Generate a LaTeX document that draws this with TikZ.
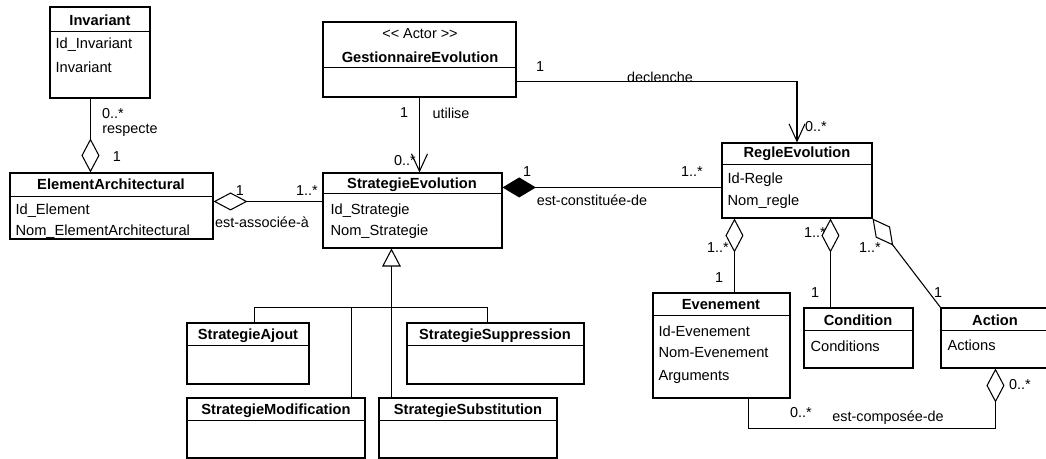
\documentclass[tikz,border=0pt]{standalone}
\usepackage{fontspec}
\setmainfont[Ligatures=NoCommon]{Liberation Sans}
\usetikzlibrary{arrows.meta,fit,calc}
\begin{document}
\begin{tikzpicture}[x=0.75pt,y=-0.75pt,line width=0.8pt,
  cls/.style={draw,inner sep=0pt,line width=0.8pt},
  ttl/.style={inner sep=0pt,font=\fontsize{11}{13}\selectfont\bfseries},
  attr/.style={inner sep=0pt,anchor=west,font=\fontsize{11}{13}\selectfont},
  lbl/.style={inner sep=0pt,font=\fontsize{10.8}{13}\selectfont},
  agg/.style={{Diamond[open,fill=white,length=25.5pt,width=13.5pt]}-},
  comp/.style={{Diamond[length=25pt,width=15pt]}-},
  navi/.style={-{Straight Barb[length=13pt,width=12pt]}},
  gen/.style={-{Triangle[open,fill=white,length=13.5pt,width=14pt]}}]
\clip (0,0) rectangle (1046,459);

% ---- classes ----
\node[cls,fit={(50,7)(150,98)}] (inv) {};
\draw ($(inv.north west)+(0,25)$) -- ($(inv.north east)+(0,25)$);
\node[ttl] (invt) at (100,20) {Invariant};
\node[attr] (inva1) at (55,45) {Id\_Invariant};
\node[attr] (inva2) at (55,67) {Invariant};

\node[cls,fit={(10,173)(213,239)}] (elem) {};
\draw ($(elem.north west)+(0,24)$) -- ($(elem.north east)+(0,24)$);
\node[ttl] (elemt) at (111,184) {ElementArchitectural};
\node[attr] (elema1) at (15,211) {Id\_Element};
\node[attr] (elema2) at (15,232) {Nom\_ElementArchitectural};

\node[cls,fit={(323,22)(516,97)}] (gest) {};
\draw ($(gest.north west)+(0,46)$) -- ($(gest.north east)+(0,46)$);
\node[lbl] (gests) at (420,34) {<{}< Actor >{}>};
\node[ttl] (gestt) at (420,57) {GestionnaireEvolution};

\node[cls,fit={(323,173)(502,248)}] (strat) {};
\draw ($(strat.north west)+(0,21)$) -- ($(strat.north east)+(0,21)$);
\node[ttl] (stratt) at (412,185) {StrategieEvolution};
\node[attr] (strata1) at (330,211) {Id\_Strategie};
\node[attr] (strata2) at (330,232) {Nom\_Strategie};

\node[cls,fit={(722,143)(872,218)}] (regle) {};
\draw ($(regle.north west)+(0,22)$) -- ($(regle.north east)+(0,22)$);
\node[ttl] (reglet) at (797,154) {RegleEvolution};
\node[attr] (reglea1) at (727,180) {Id-Regle};
\node[attr] (reglea2) at (727,202) {Nom\_regle};

\node[cls,fit={(653,293)(790,398)}] (even) {};
\draw ($(even.north west)+(0,23)$) -- ($(even.north east)+(0,23)$);
\node[ttl] (event) at (721,305) {Evenement};
\node[attr] (evena1) at (658,331) {Id-Evenement};
\node[attr] (evena2) at (658,353) {Nom-Evenement};
\node[attr] (evena3) at (658,377) {Arguments};

\node[cls,fit={(804,308)(913,368)}] (cond) {};
\draw ($(cond.north west)+(0,23)$) -- ($(cond.north east)+(0,23)$);
\node[ttl] (condt) at (858,320) {Condition};
\node[attr] (conda1) at (810,346) {Conditions};

\node[cls,fit={(941,308)(1050,368)}] (act) {};
\draw ($(act.north west)+(0,23)$) -- ($(act.north east)+(0,23)$);
\node[ttl] (actt) at (995,320) {Action};
\node[attr] (acta1) at (947,345) {Actions};

\node[cls,fit={(187,323)(309,384)}] (ajout) {};
\draw ($(ajout.north west)+(0,23)$) -- ($(ajout.north east)+(0,23)$);
\node[ttl] (ajoutt) at (248,336) {StrategieAjout};

\node[cls,fit={(407,323)(584,384)}] (supp) {};
\draw ($(supp.north west)+(0,23)$) -- ($(supp.north east)+(0,23)$);
\node[ttl] (suppt) at (495,336) {StrategieSuppression};

\node[cls,fit={(187,398)(365,458)}] (modif) {};
\draw ($(modif.north west)+(0,23)$) -- ($(modif.north east)+(0,23)$);
\node[ttl] (modift) at (276,411) {StrategieModification};

\node[cls,fit={(379,398)(557,458)}] (subst) {};
\draw ($(subst.north west)+(0,23)$) -- ($(subst.north east)+(0,23)$);
\node[ttl] (substt) at (468,411) {StrategieSubstitution};

% ---- connectors ----
\coordinate (pinv) at ($(inv.south west)+(41,0)$);
\draw[agg] (pinv |- elem.north) -- (pinv);

\coordinate (pel) at ($(elem.north east)+(0,29)$);
\draw[agg] (pel) -- (strat.west |- pel);

\draw[navi] (gest.south) -- (gest.south |- strat.north);

\coordinate (pge) at ($(gest.north east)+(0,60)$);
\draw[navi] (pge) -| (regle.north);

\coordinate (pst) at ($(strat.north east)+(0,15)$);
\draw[comp] (pst) -- (regle.west |- pst);

\coordinate (pr1) at ($(regle.south west)+(13,0)$);
\draw[agg] (pr1) -- (pr1 |- even.north);
\coordinate (pr2) at ($(regle.south west)+(109,0)$);
\draw[agg] (pr2) -- (pr2 |- cond.north);
\draw[agg] (regle.south east) -- (act.north west);

\coordinate (pac) at ($(act.south west)+(55,0)$);
\coordinate (pev) at ($(even.south west)+(96,0)$);
\draw[agg] (pac) -- ++(0,60) -| (pev);

\coordinate (pgs) at ($(strat.south west)+(69,0)$);
\draw[gen] (pgs |- subst.north) -- (pgs);
\draw ($(ajout.north west)+(68,0)$) |- ($(supp.north west)+(81,-15)$) -- ($(supp.north west)+(81,0)$);
\draw ($(modif.north west)+(165,0)$) -- ($(modif.north west)+(165,-90)$);

% ---- labels ----
\node[lbl] (l01) at (113,114) {0..*};
\node[lbl] (l02) at (130,130) {respecte};
\node[lbl] (l03) at (117,157) {1};
\node[lbl] (l04) at (240,191) {1};
\node[lbl] (l05) at (307,191) {1..*};
\node[lbl] (l06) at (262,222) {est-associée-à};
\node[lbl] (l07) at (404,113) {1};
\node[lbl] (l08) at (451,113) {utilise};
\node[lbl] (l09) at (405,161) {0..*};
\node[lbl] (l10) at (540,67) {1};
\node[lbl] (l11) at (660,77) {declenche};
\node[lbl] (l12) at (816,127) {0..*};
\node[lbl] (l13) at (527,172) {1};
\node[lbl] (l14) at (692,172) {1..*};
\node[lbl] (l15) at (592,200) {est-constituée-de};
\node[lbl] (l16) at (718,248) {1..*};
\node[lbl] (l17) at (719,278) {1};
\node[lbl] (l18) at (815,233) {1..*};
\node[lbl] (l19) at (815,293) {1};
\node[lbl] (l20) at (870,248) {1..*};
\node[lbl] (l21) at (938,293) {1};
\node[lbl] (l22) at (801,413) {0..*};
\node[lbl] (l23) at (888,418) {est-composée-de};
\node[lbl] (l24) at (1020,385) {0..*};
\end{tikzpicture}
\end{document}
